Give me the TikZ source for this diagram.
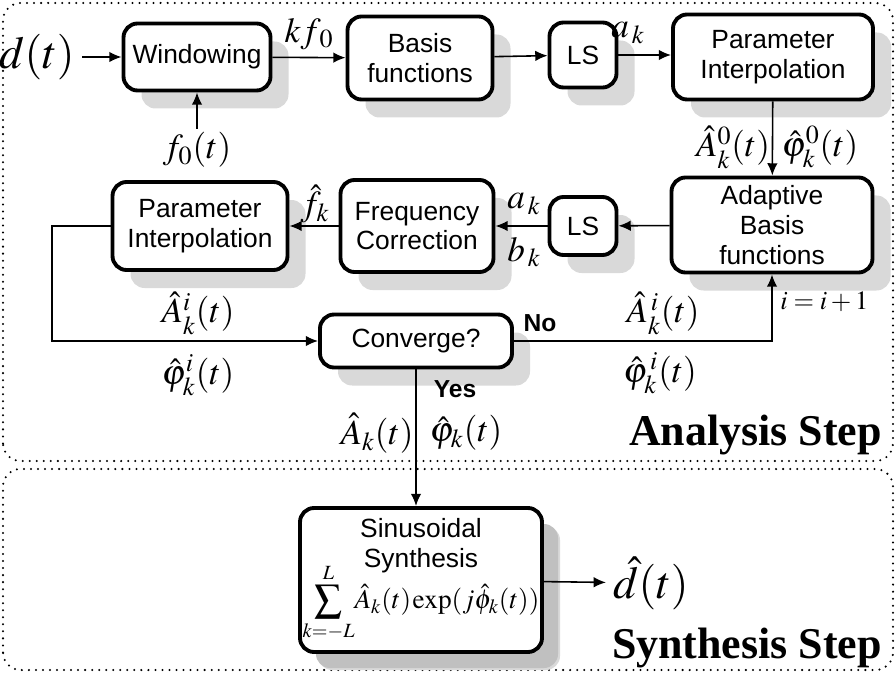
\documentclass[tikz,border=0pt]{standalone}
\usepackage{amsmath}
\usepackage{mathptmx}
\usepackage[no-math]{fontspec}
\setmainfont{Liberation Serif}
\setsansfont{Liberation Sans}
\usetikzlibrary{arrows.meta, positioning, shadows, calc}

\definecolor{shadelight}{RGB}{217,217,217}
\definecolor{shadedark}{RGB}{192,192,192}

\tikzset{
  block/.style={draw, line width=2.2pt, rounded corners=8pt, fill=white, align=center,
    font=\sffamily\fontsize{15}{17}\selectfont, inner sep=1pt,
    drop shadow={shadow xshift=0.36cm, shadow yshift=-0.36cm, fill=shadelight, opacity=1}},
  arr/.style={-{Latex[length=7pt,width=6pt]}, line width=0.9pt},
  lab/.style={font=\fontsize{20}{22}\selectfont, inner sep=0pt},
  frame/.style={dash pattern=on 0pt off 4pt, line cap=round, line width=1.3pt, rounded corners=10pt},
  steptitle/.style={font=\bfseries\fontsize{25}{27}\selectfont, anchor=base east}
}

\begin{document}
\begin{tikzpicture}
  \useasboundingbox (0,0) rectangle (17.9,13.5);
  % frames
  \draw[frame] (0.06,4.28) rectangle (17.86,13.44);
  \draw[frame] (0.06,0.1) rectangle (17.86,4.12);

  % analysis blocks
  \node[block, minimum width=2.94cm, minimum height=1.34cm] (win) at (3.94,12.36) {Windowing};
  \node[block, minimum width=2.90cm, minimum height=1.66cm] (basis) at (8.40,12.34) {Basis\\functions};
  \node[block, minimum width=1.34cm, minimum height=1.30cm] (ls1) at (11.66,12.40) {LS};
  \node[block, minimum width=4.00cm, minimum height=1.70cm] (pi1) at (15.46,12.36) {Parameter\\Interpolation};
  \node[block, minimum width=4.02cm, minimum height=1.90cm] (abf) at (15.44,9.00) {Adaptive\\Basis\\functions};
  \node[block, minimum width=1.34cm, minimum height=1.16cm] (ls2) at (11.66,8.98) {LS};
  \node[block, minimum width=3.06cm, minimum height=1.84cm] (fc) at (8.34,8.98) {Frequency\\Correction};
  \node[block, minimum width=3.50cm, minimum height=1.76cm] (pi2) at (4.00,8.98) {Parameter\\Interpolation};
  \node[block, minimum width=3.84cm, minimum height=1.06cm] (conv) at (8.32,6.68) {Converge?};

  % synthesis block
  \node[block, minimum width=4.84cm, minimum height=2.88cm,
    drop shadow={shadow xshift=0.32cm, shadow yshift=-0.32cm, fill=shadedark, opacity=1}]
    (syn) at (8.42,1.90)
    {Sinusoidal\\Synthesis\\[-6pt]
     {\fontsize{15.5}{18}\selectfont\thinmuskip=1mu\medmuskip=1mu
      $\displaystyle\sum_{k=-L}^{L}\!\hat{A}_k(t)\exp(j\hat{\phi}_k(t))$}};

  % inputs and outputs
  \node[lab, font=\fontsize{26}{28}\selectfont, inner sep=4pt] (din) at (0.74,12.36) {$d(t)$};
  \node[lab, inner sep=2pt] (f0) at (3.94,10.50) {$f_0(t)$};
  \node[lab, font=\fontsize{26}{28}\selectfont, inner sep=4pt] (dout) at (13.02,1.84) {$\hat{d}(t)$};

  % connectors
  \draw[arr] (din) -- (win);
  \draw[arr] (f0) -- (win);
  \draw[arr] (win) -- (basis);
  \draw[arr] (basis) -- (ls1);
  \draw[arr] (ls1) -- (pi1.west |- ls1);
  \draw[arr] (pi1) -- (abf);
  \draw[arr] (abf) -- (ls2);
  \draw[arr] (ls2) -- (fc);
  \draw[arr] (fc) -- (pi2);
  \coordinate (back) at (1.04,8.98);
  \draw[arr] (pi2.west) -- (back) |- (conv.west);
  \draw[arr] (conv.east) -| (abf.south);
  \draw[arr] (conv.south) -- (conv.south |- syn.north);
  \draw[arr] (syn) -- (dout);

  % labels
  \node[lab] (lkf) at (6.18,12.82) {$kf_{\,0}$};
  \node[lab] (lak1) at (12.56,12.84) {$a_{\,k}$};
  \node[lab] (lA0) at (14.66,10.56) {$\hat{A}_k^0(t)$};
  \node[lab] (lp0) at (16.40,10.56) {$\hat{\varphi}_k^0(t)$};
  \node[lab] (lfk) at (6.30,9.42) {$\hat{f}_k$};
  \node[lab] (lak2) at (10.48,9.42) {$a_{\,k}$};
  \node[lab] (lbk) at (10.48,8.46) {$b_{\,k}$};
  \node[lab] (lAi1) at (3.96,7.24) {$\hat{A}_k^i(t)$};
  \node[lab] (lpi1) at (3.96,6.00) {$\hat{\varphi}_k^i(t)$};
  \node[lab] (lAi2) at (13.26,7.24) {$\hat{A}_k^{\,i}(t)$};
  \node[lab] (lpi2) at (13.20,6.04) {$\hat{\varphi}_k^{\,i}(t)$};
  \node[font=\fontsize{15}{17}\selectfont, anchor=west, inner sep=0pt] (linc) at (15.60,7.46) {$i=i+1$};
  \node[font=\sffamily\bfseries\fontsize{14}{16}\selectfont] (lno) at (10.80,7.04) {No};
  \node[font=\sffamily\bfseries\fontsize{14}{16}\selectfont] (lyes) at (9.10,5.72) {Yes};
  \node[lab] (lA) at (7.54,4.84) {$\hat{A}_k(t)$};
  \node[lab] (lp) at (9.32,4.84) {$\hat{\varphi}_k(t)$};

  % step titles
  \node[steptitle] (tana) at (17.76,4.6) {Analysis Step};
  \node[steptitle] (tsyn) at (17.76,0.34) {Synthesis Step};
\end{tikzpicture}
\end{document}
